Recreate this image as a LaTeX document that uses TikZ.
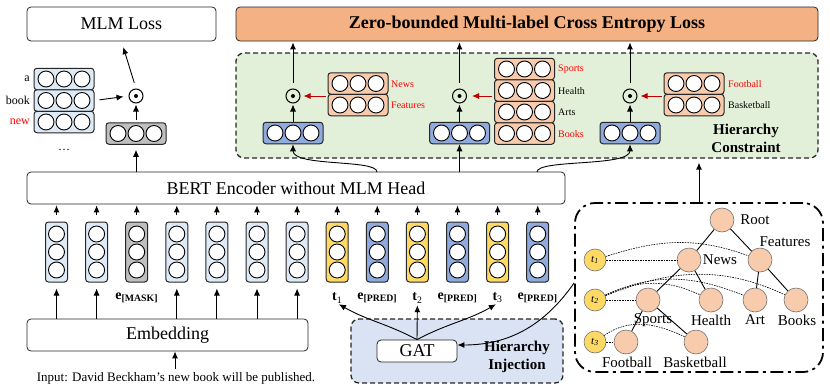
\documentclass[tikz,border=0pt]{standalone}
\usepackage{fontspec}
\setmainfont{Liberation Serif}
\usetikzlibrary{arrows.meta,calc}
\definecolor{vlb}{HTML}{DEEBF7}
\definecolor{vgr}{HTML}{BFBFBF}
\definecolor{vbl}{HTML}{8FAADC}
\definecolor{vye}{HTML}{FFD966}
\definecolor{vor}{HTML}{F8CBAD}
\definecolor{zor}{HTML}{F4B183}
\definecolor{grn}{HTML}{E2F0D9}
\definecolor{inj}{HTML}{DAE3F3}
\definecolor{dred}{HTML}{C00000}
\definecolor{lred}{HTML}{FF0000}
\newcommand{\fsz}[2]{\fontsize{#1}{#2}\selectfont}
\newcommand{\vvec}[4]{\node[vbox,fill=#4] (#1) at (#2,#3) {};
  \foreach \dd in {-18,0,18}{\draw[cir] ([yshift=\dd pt]#1.center) circle (8pt);}}
\newcommand{\hvec}[4]{\node[hbox,fill=#4] (#1) at (#2,#3) {};
  \foreach \dd in {-18,0,18}{\draw[cir] ([xshift=\dd pt]#1.center) circle (8pt);}}
\begin{document}
\begin{tikzpicture}[x=1pt,y=1pt,
 arr/.style={-{Latex[length=7pt,width=6pt]},line width=0.9pt},
 rarr/.style={arr,draw=dred,fill=dred},
 bigbox/.style={draw=black!85,line width=0.8pt,rounded corners=4pt,inner sep=0pt,fill=white},
 vbox/.style={draw=black!85,line width=1pt,rounded corners=3pt,minimum width=22pt,minimum height=60pt,inner sep=0pt},
 hbox/.style={draw=black!85,line width=1pt,rounded corners=3pt,minimum width=60pt,minimum height=21.5pt,inner sep=0pt},
 cir/.style={draw=black,line width=0.9pt,fill=white},
 odot/.style={circle,draw,line width=1pt,minimum size=14pt,inner sep=0pt},
 tnode/.style={circle,draw=black!55,line width=0.6pt,fill=vor,minimum size=24pt,inner sep=0pt},
 ynode/.style={circle,draw=black!55,line width=0.6pt,fill=vye,minimum size=22pt,inner sep=0pt,font=\fsz{11}{13}},
 tedge/.style={line width=0.9pt},
 dedge/.style={line width=0.6pt,dash pattern=on 1.6pt off 1pt},
 tlab/.style={font=\fsz{15}{17},inner sep=0pt},
 slab/.style={font=\fsz{10}{12},inner sep=0pt,anchor=west},
 toklab/.style={font=\fsz{14}{16}\bfseries,inner sep=0pt},
 dashbox/.style={draw=black!85,line width=1.3pt,dash pattern=on 5pt off 3pt,rounded corners=8pt,inner sep=0pt},
]
\useasboundingbox (0,0) rectangle (830,-391);

% ---------- top boxes ----------
\node[bigbox,minimum width=189pt,minimum height=34pt,font=\fsz{18}{20}] (mlm) at (121.5,-24) {MLM Loss};
\node[bigbox,fill=zor,minimum width=582pt,minimum height=34pt,font=\fsz{18}{20}\bfseries] (zero) at (527,-24) {Zero-bounded Multi-label Cross Entropy Loss};
\node[dashbox,fill=grn,minimum width=582pt,minimum height=105pt] (hc) at (527,-105.5) {};
\node[font=\fsz{15}{18}\bfseries,align=center,inner sep=0pt] (hctext) at (746,-138) {Hierarchy\\Constraint};

% ---------- MLM part ----------
\hvec{s1}{64}{-79}{vlb}
\hvec{s2}{64}{-100.5}{vlb}
\hvec{s3}{64}{-122}{vlb}
\node[font=\fsz{12}{14},anchor=east,inner sep=0pt] (la) at (30,-79) {a};
\node[font=\fsz{12}{14},anchor=east,inner sep=0pt] (lb) at (30,-100.5) {book};
\node[font=\fsz{12}{14},anchor=east,inner sep=0pt,text=lred] (ln) at (30,-122) {new};
\node[font=\fsz{12}{14},inner sep=0pt] (dots) at (64,-150) {\dots};
\hvec{g}{136}{-133.5}{vgr}
\node[odot] (d0) at (136,-96) {};
\fill (d0) circle (2pt);
\draw[arr,shorten <=5pt,shorten >=5pt] (s2.east) -- (d0.west);
\draw[arr,shorten <=2pt,shorten >=1pt] (g.north) -- (d0.south);
\draw[arr,shorten <=6pt,shorten >=6pt] (d0.north) -- (mlm.south);

% ---------- group 1 ----------
\hvec{b1}{293}{-133}{vbl}
\node[odot] (d1) at (293,-96) {};
\fill (d1) circle (2pt);
\hvec{o11}{358}{-83.5}{vor}
\hvec{o12}{358}{-105}{vor}
\node[slab,text=lred] (n11) at (391,-84) {News};
\node[slab,text=lred] (n12) at (391,-105) {Features};
\draw[rarr,shorten <=2pt,shorten >=3pt] (d1.east -| o11.west) -- (d1.east);
\draw[arr,shorten >=1pt] (b1.north) -- (d1.south);
\draw[arr,shorten <=6pt,shorten >=1pt] (d1.north) -- (d1.north |- zero.south);

% ---------- group 2 ----------
\hvec{b2}{459.5}{-133}{vbl}
\node[odot] (d2) at (459.5,-96) {};
\fill (d2) circle (2pt);
\hvec{o21}{524.5}{-69}{vor}
\hvec{o22}{524.5}{-90.5}{vor}
\hvec{o23}{524.5}{-112}{vor}
\hvec{o24}{524.5}{-133.5}{vor}
\node[slab,text=lred] (n21) at (558,-69) {Sports};
\node[slab] (n22) at (558,-91) {Health};
\node[slab] (n23) at (558,-112.5) {Arts};
\node[slab,text=lred] (n24) at (558,-134) {Books};
\draw[rarr,shorten <=2pt,shorten >=5pt] (d2.east -| o21.west) -- (d2.east);
\draw[arr,shorten >=1pt] (b2.north) -- (d2.south);
\draw[arr,shorten <=6pt,shorten >=1pt] (d2.north) -- (d2.north |- zero.south);

% ---------- group 3 ----------
\hvec{b3}{630}{-133}{vbl}
\node[odot] (d3) at (630,-96) {};
\fill (d3) circle (2pt);
\hvec{o31}{694}{-83.5}{vor}
\hvec{o32}{694}{-105}{vor}
\node[slab,text=lred] (n31) at (728,-84) {Football};
\node[slab] (n32) at (728,-105) {Basketball};
\draw[rarr,shorten <=2pt,shorten >=3pt] (d3.east -| o31.west) -- (d3.east);
\draw[arr,shorten >=1pt] (b3.north) -- (d3.south);
\draw[arr,shorten <=6pt,shorten >=1pt] (d3.north) -- (d3.north |- zero.south);

% ---------- BERT ----------
\node[bigbox,minimum width=538pt,minimum height=32pt,font=\fsz{18}{20}] (bert) at (296,-188) {BERT Encoder without MLM Head};
\coordinate (c1) at (377,-172);
\coordinate (c3) at (537,-172);
\draw[arr,shorten >=5pt] (g.south |- bert.north) -- (g.south);
\draw[arr] (c1) .. controls (377,-159) and (293,-167) .. (b1.south);
\draw[arr] (b2.south |- bert.north) -- (b2.south);
\draw[arr] (c3) .. controls (537,-159) and (630,-167) .. (b3.south);

% ---------- token vectors ----------
\vvec{v1}{56.5}{-252}{vlb}
\vvec{v2}{96.6}{-252}{vlb}
\vvec{v3}{136.7}{-252}{vgr}
\vvec{v4}{176.8}{-252}{vlb}
\vvec{v5}{216.9}{-252}{vlb}
\vvec{v6}{257}{-252}{vlb}
\vvec{v7}{297.1}{-252}{vlb}
\vvec{v8}{337.2}{-252}{vye}
\vvec{v9}{377.3}{-252}{vbl}
\vvec{v10}{417.4}{-252}{vye}
\vvec{v11}{457.5}{-252}{vbl}
\vvec{v12}{497.6}{-252}{vye}
\vvec{v13}{537.7}{-252}{vbl}
\foreach \i in {1,...,13}{\draw[arr,shorten <=7pt,shorten >=1pt] (v\i.north) -- (v\i.north |- bert.south);}

\node[toklab] (lmask) at (136.7,-298) {e\textsubscript{[MASK]}};
\node[toklab] (lt1) at (337.2,-298) {t\textsubscript{\mdseries 1}};
\node[toklab] (lp1) at (377.3,-298) {e\textsubscript{[PRED]}};
\node[toklab] (lt2) at (417.4,-298) {t\textsubscript{\mdseries 2}};
\node[toklab] (lp2) at (457.5,-298) {e\textsubscript{[PRED]}};
\node[toklab] (lt3) at (497.6,-298) {t\textsubscript{\mdseries 3}};
\node[toklab] (lp3) at (537.7,-298) {e\textsubscript{[PRED]}};

% ---------- Embedding ----------
\node[bigbox,minimum width=281pt,minimum height=32pt,font=\fsz{18}{20}] (emb) at (167.5,-335) {Embedding};
\foreach \i in {1,2,4,5,6,7}{\draw[arr,shorten >=6pt] (v\i.south |- emb.north) -- (v\i.south);}
\node[font=\fsz{13}{15},inner sep=0pt] (inp) at (176,-378) {Input: David Beckham’s new book will be published.};
\draw[arr,shorten <=3pt] (175,0 |- inp.north) -- (175,0 |- emb.south);

% ---------- Hierarchy Injection ----------
\node[dashbox,fill=inj,minimum width=212pt,minimum height=64pt] (hi) at (457,-351) {};
\node[bigbox,minimum width=80pt,minimum height=22pt,font=\fsz{18}{20}] (gat) at (417,-351) {GAT};
\node[font=\fsz{15}{18}\bfseries,align=center,inner sep=0pt] (hitext) at (517,-356.5) {Hierarchy\\Injection};
\draw[arr,shorten >=2pt] (gat.north) to[out=152,in=-30] (lt1.south);
\draw[arr,shorten >=2pt] (gat.north) -- (lt2.south);
\draw[arr,shorten >=2pt] (gat.north) to[out=28,in=-150] (lt3.south);

% ---------- Tree ----------
\node[draw,line width=1.8pt,dash pattern=on 13pt off 4.5pt on 3pt off 4.5pt,rounded corners=20pt,minimum width=248pt,minimum height=169pt,inner sep=0pt] (tree) at (699,-287.5) {};
\draw[arr,shorten >=4pt] (tree.north) -- (tree.north |- hc.south);
\draw[arr] ([yshift=4.5pt]tree.west) to[out=-125,in=0] ([yshift=6pt]gat.east);

\node[tnode] (root) at (722,-220) {};
\node[tnode] (news) at (689,-260) {};
\node[tnode] (feat) at (760,-260) {};
\node[tnode] (sports) at (648,-300) {};
\node[tnode] (health) at (711,-300) {};
\node[tnode] (art) at (755,-300) {};
\node[tnode] (books) at (796,-300) {};
\node[tnode] (foot) at (626,-342) {};
\node[tnode] (bask) at (696,-342) {};
\node[ynode] (y1) at (595,-260) {\textit{t}\textsubscript{\textit{1}}};
\node[ynode] (y2) at (595,-300) {\textit{t}\textsubscript{\textit{2}}};
\node[ynode] (y3) at (595,-342) {\textit{t}\textsubscript{\textit{3}}};

\draw[tedge] (root) -- (news);
\draw[tedge] (root) -- (feat);
\draw[tedge] (news) -- (sports);
\draw[tedge] (news) -- (health);
\draw[tedge] (feat) -- (art);
\draw[tedge] (feat) -- (books);
\draw[tedge] (sports) -- (foot);
\draw[tedge] (sports) -- (bask);

\draw[dedge] (y1) -- (news);
\draw[dedge] (y1) to[out=18,in=160] (feat);
\draw[dedge] (y2) -- (sports);
\draw[dedge] (y2) to[out=25,in=155] (health);
\draw[dedge] (y2) to[out=25,in=158] (art);
\draw[dedge] (y2) to[out=22,in=155] (books);
\draw[dedge] (y3) -- (foot);
\draw[dedge] (y3) to[out=35,in=155] (bask);

\node[tlab] (lroot) at (755,-220) {Root};
\node[tlab] (lnews) at (720,-260) {News};
\node[tlab] (lfeat) at (785,-242) {Features};
\node[tlab] (lsports) at (653,-320) {Sports};
\node[tlab] (lhealth) at (711,-320) {Health};
\node[tlab] (lart) at (755,-320) {Art};
\node[tlab] (lbooks) at (797,-320) {Books};
\node[tlab] (lfoot) at (627,-362) {Football};
\node[tlab] (lbask) at (695,-362) {Basketball};
\end{tikzpicture}
\end{document}
